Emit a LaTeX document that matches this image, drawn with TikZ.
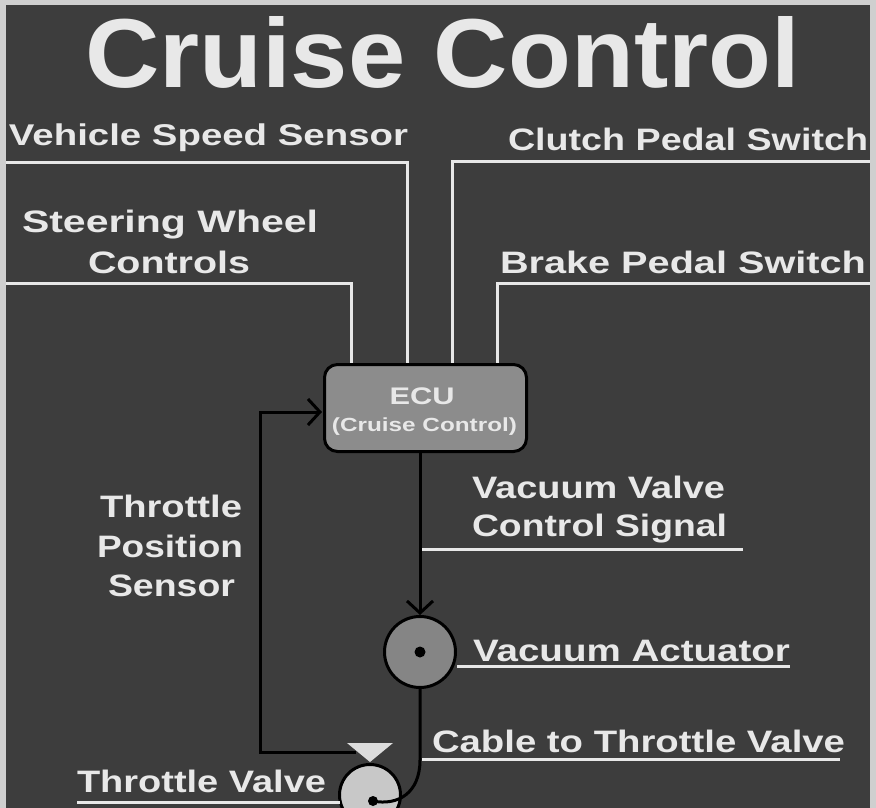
\documentclass[tikz,border=0pt]{standalone}
\usepackage{fontspec}
\setmainfont{Liberation Sans}
\usetikzlibrary{arrows.meta}
\definecolor{bg}{HTML}{3D3D3D}
\definecolor{framec}{HTML}{CFCFCF}
\definecolor{wl}{HTML}{E8E8E8}
\definecolor{ecufill}{HTML}{8C8C8C}
\definecolor{actfill}{HTML}{858585}
\definecolor{tvfill}{HTML}{C8C8C8}
\definecolor{trifill}{HTML}{DCDCDC}
\newcommand{\fw}[2]{\resizebox{#1pt}{\height}{#2}}
\begin{document}
\begin{tikzpicture}[x=1pt,y=-1pt,
  lbl/.style={anchor=base west, inner sep=0pt, outer sep=0pt, text=wl, font=\fontsize{31}{31}\selectfont\bfseries},
  clbl/.style={anchor=base, inner sep=0pt, outer sep=0pt, text=wl},
  wline/.style={draw=wl, line width=3pt},
  bline/.style={draw=black, line width=3pt},
  arr/.style={-{Straight Barb[length=12pt,width=26pt,line width=3pt]}}
]
\useasboundingbox (0,0) rectangle (876,808);
\clip (0,0) rectangle (876,808);
\fill[framec] (0,0) rectangle (876,808);
\fill[bg] (6,5) rectangle (870,810);

% title
\node[lbl, font=\fontsize{98}{98}\selectfont\bfseries] (title) at (85,87) {\fw{715}{Cruise Control}};

% input labels
\node[lbl, font=\fontsize{30}{30}\selectfont\bfseries] (vss) at (9,145) {\fw{399}{Vehicle Speed Sensor}};
\node[lbl] (cps) at (508,150) {\fw{360}{Clutch Pedal Switch}};
\node[lbl] (swc1) at (22,232) {\fw{296}{Steering Wheel}};
\node[lbl] (swc2) at (88,273) {\fw{162}{Controls}};
\node[lbl] (bps) at (500,273) {\fw{366}{Brake Pedal Switch}};

% input line coordinates
\coordinate (vssL) at (6,162);
\coordinate (vssE) at (407,363);
\coordinate (cpsR) at (870,161);
\coordinate (cpsE) at (452,363);
\coordinate (swcL) at (6,283);
\coordinate (swcE) at (351,363);
\coordinate (bpsR) at (870,283);
\coordinate (bpsE) at (497,363);
\draw[wline] (vssL) -| (vssE);
\draw[wline] (cpsR) -| (cpsE);
\draw[wline] (swcL) -| (swcE);
\draw[wline] (bpsR) -| (bpsE);

% ECU
\node[draw=black, line width=3pt, fill=ecufill, rounded corners=13pt,
      minimum width=202pt, minimum height=87pt, inner sep=0pt] (ecu) at (425.5,408) {};
\node[clbl, font=\fontsize{24}{24}\selectfont\bfseries] (ecut1) at (422,404) {\fw{65}{ECU}};
\node[clbl, font=\fontsize{19}{19}\selectfont\bfseries] (ecut2) at (424.5,431) {\fw{185}{(Cruise Control)}};

% actuator
\node[circle, draw=black, line width=3pt, fill=actfill, minimum size=71pt, inner sep=0pt] (act) at (420,652) {};
\node[circle, fill=black, minimum size=11pt, inner sep=0pt] (actdot) at (act.center) {};

% throttle valve
\coordinate (fbS) at (356,752);
\coordinate (fbL) at (260,752);
\coordinate (ecuin) at (322,412);
\draw[bline, arr] (fbS) -- (fbL) |- (ecuin);
\node[circle, draw=black, line width=3pt, fill=tvfill, minimum size=61pt, inner sep=0pt] (tv) at (370,795) {};
\fill[trifill] (347,743) -- (393,743) -- (370,762) -- cycle;
\node[circle, fill=black, minimum size=10pt, inner sep=0pt] (tvdot) at (373,801) {};

% control signal arrow
\draw[bline, arr] (ecu.south -| act.north) -- (act.north);

% cable
\coordinate (cbend) at (420,760);
\draw[bline] (act.south) -- (cbend) .. controls (420,793) and (398,806) .. (tvdot.center);

% right/bottom labels
\node[lbl] (vv1) at (472,498) {\fw{253}{Vacuum Valve}};
\node[lbl] (vv2) at (472,536) {\fw{255}{Control Signal}};
\coordinate (vvU1) at (422,549);
\coordinate (vvU2) at (743,549);
\draw[wline] (vvU1) -- (vvU2);

\node[lbl] (va) at (473,661) {\fw{317}{Vacuum Actuator}};
\coordinate (vaU1) at (457,666);
\coordinate (vaU2) at (790,666);
\draw[wline] (vaU1) -- (vaU2);

\node[lbl] (ctv) at (432,752) {\fw{413}{Cable to Throttle Valve}};
\coordinate (ctvU1) at (422,759);
\coordinate (ctvU2) at (840,759);
\draw[wline] (ctvU1) -- (ctvU2);

\node[lbl] (tvl) at (77,792) {\fw{249}{Throttle Valve}};
\coordinate (tvU1) at (77,802);
\coordinate (tvU2) at (340,802);
\draw[wline] (tvU1) -- (tvU2);

\node[lbl] (tps1) at (100,517) {\fw{142}{Throttle}};
\node[lbl] (tps2) at (97,557) {\fw{146}{Position}};
\node[lbl] (tps3) at (108,596) {\fw{127}{Sensor}};
\end{tikzpicture}
\end{document}
